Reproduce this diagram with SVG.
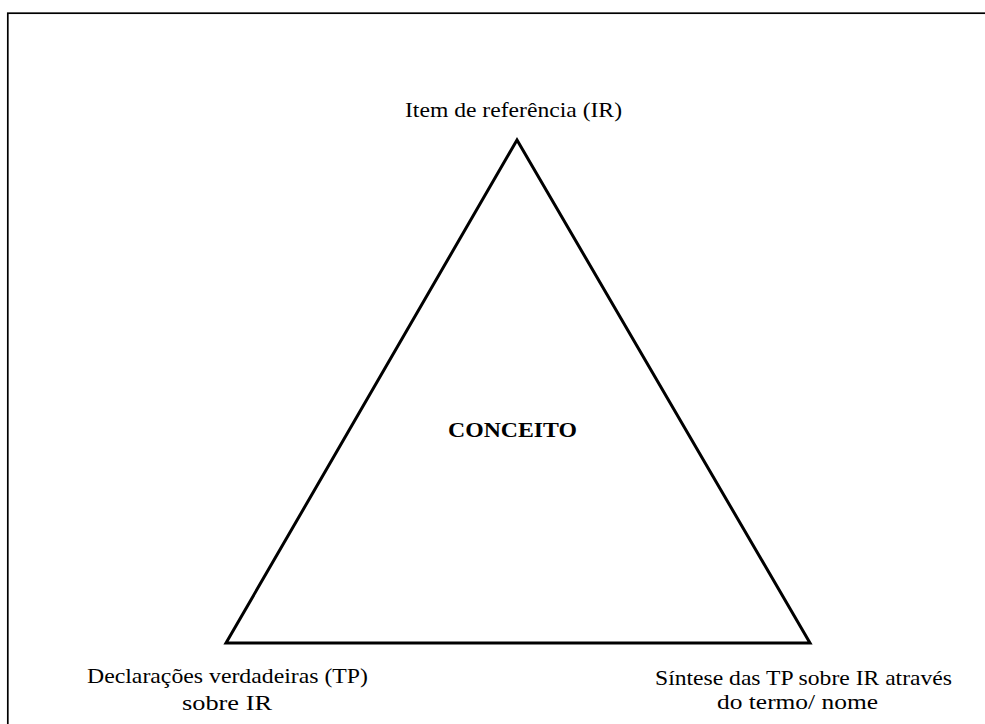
<svg xmlns="http://www.w3.org/2000/svg" width="985" height="724" viewBox="0 0 985 724">
<style>
.t{font-family:"Liberation Serif","Times New Roman",serif;font-size:22px;fill:#000;text-anchor:middle}
.b{font-weight:bold}
</style>
<rect width="985" height="724" fill="#fff"/>
<rect x="7.8" y="13.2" width="1000" height="800" fill="none" stroke="#000" stroke-width="1.7"/>
<g id="connectors">
<polygon points="517,140 226,643 810,643" fill="none" stroke="#000" stroke-width="3"/>
</g>
<g id="node-ir"><text class="t" x="513.5" y="117" textLength="217" lengthAdjust="spacingAndGlyphs">Item de referência (IR)</text></g>
<g id="node-conceito"><text class="t b" x="512.5" y="437" textLength="129" lengthAdjust="spacingAndGlyphs">CONCEITO</text></g>
<g id="node-tp">
<text class="t" x="227.5" y="683" textLength="281" lengthAdjust="spacingAndGlyphs">Declarações verdadeiras (TP)</text>
<text class="t" x="227" y="710" textLength="90" lengthAdjust="spacingAndGlyphs">sobre  IR</text>
</g>
<g id="node-sintese">
<text class="t" x="803.5" y="685" textLength="297" lengthAdjust="spacingAndGlyphs">Síntese das TP sobre IR através</text>
<text class="t" x="797.5" y="709" textLength="161" lengthAdjust="spacingAndGlyphs">do termo/ nome</text>
</g>
</svg>
